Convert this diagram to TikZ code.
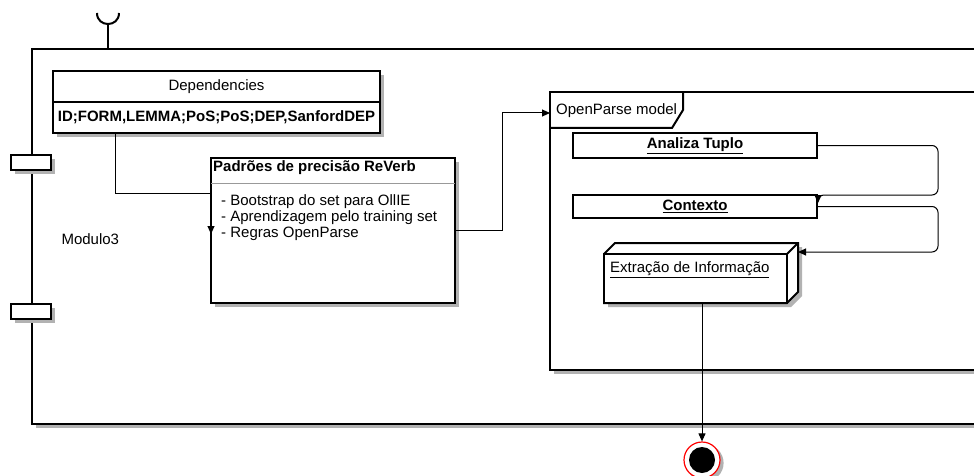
\documentclass[tikz,border=0pt]{standalone}
\usepackage{fontspec}
\setmainfont{Liberation Sans}
\usetikzlibrary{arrows.meta,positioning}

\pgfdeclarelayer{bg}
\pgfsetlayers{bg,main}

\tikzset{
  box/.style={draw, line width=2pt, fill=white, inner sep=0pt, outer sep=0pt, anchor=north west},
  shadowfill/.style={fill=black!30},
  link/.style={line width=1pt, -{Triangle[length=8pt,width=7pt]}},
}
\newcommand\boxshadow[1]{%
  \begin{pgfonlayer}{bg}
    \fill[shadowfill] ([xshift=4pt,yshift=-4pt]#1.north west) rectangle ([xshift=4pt,yshift=-4pt]#1.south east);
  \end{pgfonlayer}}

\begin{document}
\begin{tikzpicture}[x=1pt, y=-1pt, font=\fontsize{15}{16}\selectfont]
    \useasboundingbox (0,0) rectangle (974,476);
    \clip (0,0) rectangle (974,476);

    % component
    \begin{pgfonlayer}{bg}
        \fill[shadowfill] (36,53) rectangle (1014,428);
        \draw[line width=2.5pt, fill=white] (32,49) rectangle (1010,424);
    \end{pgfonlayer}
    \node[anchor=west] (modulo) at (58,239) {Modulo3};

    % required interface
    \draw[line width=2pt] (108,49) -- (108,24);
    \draw[line width=2pt] (97,13) .. controls (97,27.7) and (119,27.7) .. (119,13);

    % ports
    \node[box, minimum width=40pt, minimum height=15pt] (port1) at (11,155) {};
    \node[box, minimum width=40pt, minimum height=15pt] (port2) at (11,304) {};
    \boxshadow{port1}
    \boxshadow{port2}

    % dependencies
    \node[box, minimum width=327pt, minimum height=31pt] (dephead) at (53,71) {Dependencies};
    \node[box, minimum width=327pt, minimum height=31pt, below=0pt of dephead, font=\fontsize{15}{16}\selectfont\bfseries] (depbody) {ID;FORM,LEMMA;PoS;PoS;DEP,SanfordDEP};
    \boxshadow{dephead}
    \boxshadow{depbody}

    % reverb
    \node[box, minimum width=244pt, minimum height=145pt] (padroes) at (211,158) {};
    \boxshadow{padroes}
    \node[anchor=west, inner sep=0pt, font=\fontsize{15}{16}\selectfont\bfseries] (padtitle) at (213,168) {Padrões de precisão ReVerb};
    \draw[black!40, line width=1pt] ([yshift=-25pt]padroes.north west) -- ([yshift=-25pt]padroes.north east);
    \node[anchor=north west, inner sep=0pt, align=left] (padlist) at (221,194) {- Bootstrap do set para OllIE\\- Aprendizagem pelo training set\\- Regras OpenParse};

    % openparse frame
    \node[box, minimum width=440pt, minimum height=278pt] (frame) at (550,92) {};
    \boxshadow{frame}
    \draw[line width=2pt] (550,128) -- (672,128) -- (683,110) -- (683,92);
    \node[anchor=west, inner sep=0pt] (framelabel) at (556,111) {OpenParse model};

    \node[box, minimum width=244pt, minimum height=25pt, font=\fontsize{15}{16}\selectfont\bfseries] (analiza) at (573,133) {\underline{Analiza Tuplo}};
    \node[box, minimum width=244pt, minimum height=23pt, font=\fontsize{15}{16}\selectfont\bfseries] (contexto) at (573,195) {\underline{Contexto}};
    \boxshadow{analiza}
    \boxshadow{contexto}

    % 3d node
    \fill[shadowfill] (608,258) -- (619,247) -- (802,247) -- (802,296) -- (791,307) -- (608,307) -- cycle;
    \draw[line width=2pt, fill=white] (604,254) -- (615,243) -- (798,243) -- (798,292) -- (787,303) -- (604,303) -- cycle;
    \node[box, minimum width=183pt, minimum height=49pt] (extracao) at (604,254) {};
    \draw[line width=2pt] (extracao.north east) -- ++(11,-11);
    \coordinate (extback) at (798,252);
    \node[anchor=west, inner sep=0pt] (extlabel) at (610,270) {\underline{Extração de Informação}};

    % final state
    \node[circle, draw=red, line width=1.2pt, fill=white, minimum size=36pt, inner sep=0pt] (fim) at (702,460) {};
    \node[circle, fill=black, minimum size=26pt, inner sep=0pt] (fimdot) at (fim) {};
    \begin{pgfonlayer}{bg}
        \fill[shadowfill] ([xshift=3pt,yshift=-3pt]fim.center) circle (18.6);
    \end{pgfonlayer}

    % connectors
    \draw[link] ([xshift=62pt]depbody.south west) |- ([yshift=-35pt]padroes.north west) -- ([yshift=-76pt]padroes.north west);
    \draw[link] (padroes.east) -- ++(47,0) |- ([yshift=-21pt]frame.north west);
    \draw[link, rounded corners=6pt] (analiza.east) -- ++(121,0) |- ([xshift=1pt]contexto.north east) -- ([xshift=1pt,yshift=-8pt]contexto.north east);
    \draw[link, rounded corners=6pt] (contexto.east) -- ++(121,0) |- (extback);
    \draw[link] (extracao.south -| fim) -- (fim.north);
\end{tikzpicture}
\end{document}
